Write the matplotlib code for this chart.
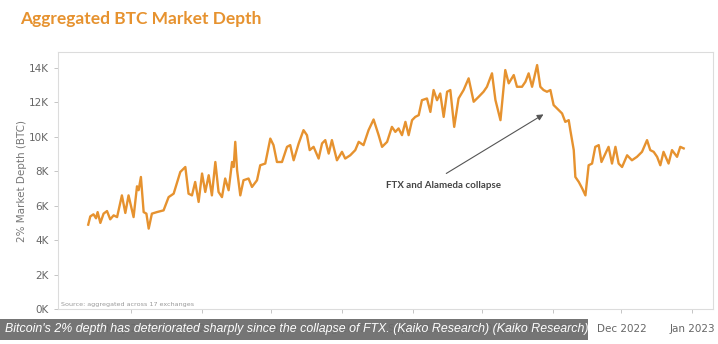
import numpy as np
import pandas as pd
import matplotlib.pyplot as plt
import matplotlib.dates as mdates
from matplotlib.patches import Rectangle

# days since 2022-04-01 and 2% depth in thousands of BTC
days = [11.2, 12.1, 13.5, 14.6, 15.3, 16.5, 17.9, 19.4, 20.8, 22.3, 23.8,
        25.9, 27.4, 28.8, 30.3, 31.0, 32.5, 33.2, 34.2, 35.4, 36.6, 37.6,
        39.0, 41.2, 44.1, 46.3, 48.5, 51.4, 53.6, 55.0, 56.5, 57.9, 59.4,
        60.9, 62.3, 63.8, 65.2, 66.7, 68.1, 69.6, 71.0, 72.5, 74.0, 74.7,
        75.4, 76.2, 77.6, 79.0, 81.2, 82.7, 84.9, 86.3, 88.5, 90.7, 92.1,
        93.6, 95.8, 98.0, 99.4, 100.9, 103.1, 105.2, 106.7, 107.9, 109.6,
        111.8, 113.3, 114.7, 116.2, 117.6, 119.8, 122.0, 123.4, 125.6, 127.8,
        129.3, 131.4, 133.6, 135.8, 138.0, 139.5, 141.7, 143.8, 145.3, 146.7,
        148.2, 149.7, 151.1, 152.6, 154.0, 155.5, 156.9, 159.1, 160.6, 162.0,
        163.5, 164.9, 166.4, 167.9, 169.3, 171.0, 172.9, 175.1, 177.3, 179.5,
        181.7, 183.8, 185.3, 187.5, 189.0, 191.2, 193.3, 194.8, 197.0, 198.4,
        200.6, 202.1, 203.5, 205.0, 207.2, 208.6, 210.0, 211.5, 213.0, 214.4,
        215.9, 218.1, 219.5, 221.0, 221.7, 223.2, 223.9, 225.4, 226.9, 228.3,
        229.7, 231.2, 232.6, 234.1, 235.3, 237.0, 238.4, 239.9, 241.4, 242.8,
        244.3, 246.5, 248.6, 250.8, 253.0, 255.2, 256.6, 258.1, 259.6, 261.0,
        262.4, 264.6, 266.1, 268.3, 269.7, 271.2]
depth_k = [4.9, 5.38, 5.5, 5.27, 5.63, 5.0, 5.54, 5.69, 5.21, 5.44, 5.34,
           6.6, 5.58, 6.6, 5.73, 5.34, 7.13, 6.9, 7.67, 5.63, 5.54, 4.67,
           5.54, 5.63, 5.73, 6.5, 6.7, 7.96, 8.25, 6.7, 6.6, 7.38, 6.22,
           7.87, 6.8, 7.77, 6.6, 8.54, 6.8, 6.5, 7.58, 6.9, 8.54, 8.25,
           9.71, 8.06, 6.6, 7.48, 7.58, 7.09, 7.48, 8.35, 8.45, 9.9, 9.52,
           8.54, 8.54, 9.42, 9.52, 8.64, 9.62, 10.39, 10.1, 9.23, 9.42,
           8.74, 9.62, 9.81, 9.03, 9.81, 8.64, 9.13, 8.74, 8.93, 9.23,
           9.71, 9.52, 10.39, 11.01, 10.1, 9.42, 9.71, 10.58, 10.29, 10.49,
           10.1, 10.87, 10.1, 10.97, 11.16, 11.26, 12.13, 12.23, 11.45, 12.72,
           12.13, 12.52, 11.16, 12.62, 12.72, 10.58, 12.23, 12.72, 13.4, 12.04,
           12.33, 12.62, 12.91, 13.69, 12.14, 10.97, 13.88, 13.11, 13.59, 12.91,
           12.91, 13.2, 13.69, 12.91, 14.17, 12.91, 12.72, 12.62, 12.72, 11.85,
           11.65, 11.36, 10.87, 10.97, 10.39, 9.23, 7.67, 7.38, 7.0, 6.6,
           8.35, 8.45, 9.42, 9.52, 8.54, 9.03, 9.42, 8.45, 9.42, 8.45,
           8.25, 8.93, 8.64, 8.84, 9.13, 9.81, 9.23, 9.13, 8.84, 8.35,
           9.13, 8.45, 9.23, 8.84, 9.42, 9.33]

start = pd.Timestamp('2022-04-01')
dates = start + pd.to_timedelta(days, unit='D')
depth = np.array(depth_k) * 1000

yticks = [0, 2000, 4000, 6000, 8000, 10000, 12000, 14000]
ytick_labels = ['0K', '2K', '4K', '6K', '8K', '10K', '12K', '14K']
month_ticks = pd.date_range('2022-05-01', '2023-01-01', freq='MS')

orange = '#E6922F'

fig = plt.figure(figsize=(7.18, 3.44), dpi=100)
ax = fig.add_axes([58/718, 1-309/344, (713-58)/718, (309-52)/344])

ax.plot(dates, depth, color=orange, lw=1.7, solid_joinstyle='round')

ax.set_xlim(pd.Timestamp('2022-03-30'), pd.Timestamp('2023-01-10'))
ax.set_ylim(0, 14930)
ax.set_yticks(yticks)
ax.set_yticklabels(ytick_labels)
ax.set_xticks(month_ticks)
ax.xaxis.set_major_formatter(mdates.DateFormatter('%b %Y'))

for s in ax.spines.values():
    s.set_color('#dcdcdc')
    s.set_linewidth(0.8)
ax.tick_params(axis='both', colors='#bbbbbb', length=3, width=0.6,
               labelcolor='#666666', labelsize=7.5)
ax.tick_params(axis='x', pad=8)

ax.set_ylabel('2% Market Depth (BTC)', color='#777777', fontsize=7.5,
              labelpad=1.5)

ax.text(0.004, 0.008, 'Source: aggregated across 17 exchanges',
        transform=ax.transAxes, fontsize=4.6, color='#999999',
        ha='left', va='bottom')

ax.annotate('', xy=(start + pd.Timedelta(days=211), 11390),
            xytext=(start + pd.Timedelta(days=166.5), 7790),
            arrowprops=dict(arrowstyle='-|>', color='#555555', lw=0.8,
                            mutation_scale=9))
ax.text(start + pd.Timedelta(days=166.5), 7200, 'FTX and Alameda collapse',
        fontsize=7, fontweight='bold', color='#444444', family='Lato',
        ha='center', va='center')

fig.text(20/718, 1-19/344, 'Aggregated BTC Market Depth', color=orange,
         fontsize=12.5, fontweight='bold', family='Lato',
         ha='left', va='center')

# caption bar over the bottom axis labels
fig.patches.append(Rectangle((0, 4/344), 588/718, 21/344,
                             transform=fig.transFigure, facecolor='#6b6b6b',
                             alpha=0.93, edgecolor='none', zorder=5))
fig.text(5/718, 1-329/344,
         "Bitcoin's 2% depth has deteriorated sharply since the collapse of "
         "FTX. (Kaiko Research) (Kaiko Research)",
         color='white', fontsize=8.9, style='italic', family='Liberation Sans',
         ha='left', va='center', zorder=6)

fig.savefig('out.png', dpi=100)
